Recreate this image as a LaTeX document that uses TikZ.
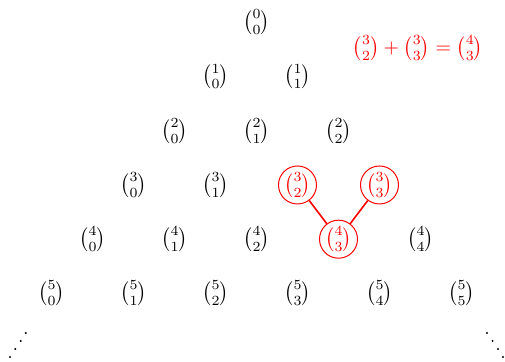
\documentclass[tikz,border=0pt]{standalone}
\usepackage{amsmath}
\begin{document}
\begin{tikzpicture}[x=1pt,y=1pt,
  bn/.style={inner sep=0pt},
  hl/.style={draw=red, text=red, circle, minimum size=19pt, inner sep=0pt, line width=0.5pt},
  link/.style={red, line width=0.8pt},
  dotmark/.style={fill=black, draw=none}]
\useasboundingbox (0,0) rectangle (252.5,-181);
\foreach \n/\k/\s in {0/0/bn,1/0/bn,1/1/bn,2/0/bn,2/1/bn,2/2/bn,
  3/0/bn,3/1/bn,3/2/hl,3/3/hl,4/0/bn,4/1/bn,4/2/bn,4/3/hl,4/4/bn,
  5/0/bn,5/1/bn,5/2/bn,5/3/bn,5/4/bn,5/5/bn}
  {\node[\s] (b\n\k) at ({128.25+(2*\k-\n)*20.5},{-11.2-\n*27.1}) {$\binom{\n}{\k}$};}
\draw[link] (b32) -- (b43);
\draw[link] (b33) -- (b43);
\node[text=red, inner sep=0pt] (formula) at (209,-24) {$\binom{3}{2}+\binom{3}{3}=\binom{4}{3}$};
\foreach \i/\x/\y in {1/12.85/-166.5,2/10.35/-170.5,3/7.6/-174.5,4/5/-178.5}
  {\fill[dotmark] (\x,\y) circle (0.55pt) coordinate (l\i);}
\foreach \i/\x/\y in {1/243.5/-166.5,2/246.3/-170.5,3/249/-174.5,4/251.5/-178.5}
  {\fill[dotmark] (\x,\y) circle (0.55pt) coordinate (r\i);}
\end{tikzpicture}
\end{document}
